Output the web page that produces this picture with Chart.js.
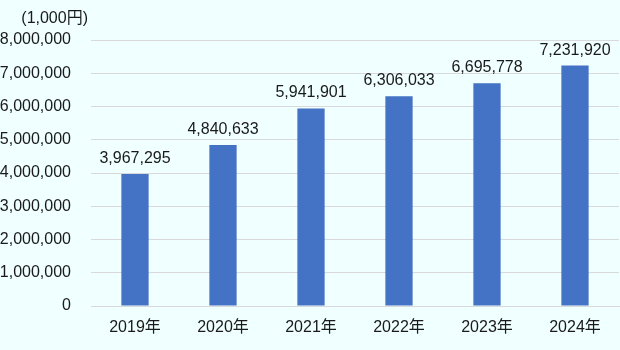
<!DOCTYPE html>
<html>
<head>
<meta charset="utf-8">
<script src="https://cdn.jsdelivr.net/npm/chart.js@4"></script>
<style>
  html, body { margin: 0; padding: 0; background: #f0ffff; }
  #wrap { width: 620px; height: 350px; }
</style>
</head>
<body>
<div id="wrap"><canvas id="c" width="620" height="350"></canvas></div>
<script>
// data
var years  = ['2019年', '2020年', '2021年', '2022年', '2023年', '2024年'];
var values = [3967295, 4840633, 5941901, 6306033, 6695778, 7231920];
var unitLabel = '(1,000円)';

var fontFam = '"Liberation Sans", "Noto Sans CJK JP", sans-serif';
var textCol = '#1a1a1a';
var gridCol = '#d9d9d9';
var barCol  = '#4472c4';

function fmt(v) { return v.toLocaleString('en-US'); }

// value labels above bars + unit text over y axis
var labelsPlugin = {
  id: 'valueLabels',
  afterDatasetsDraw: function (chart) {
    var ctx = chart.ctx;
    var meta = chart.getDatasetMeta(0);
    ctx.save();
    ctx.font = '16px ' + fontFam;
    ctx.fillStyle = textCol;
    ctx.textAlign = 'center';
    ctx.textBaseline = 'alphabetic';
    meta.data.forEach(function (bar, i) {
      ctx.fillText(fmt(values[i]), bar.x, bar.y - 11);
    });
    ctx.textAlign = 'right';
    ctx.fillText(unitLabel, chart.chartArea.left - 3, 23);
    ctx.restore();
  }
};

new Chart(document.getElementById('c'), {
  type: 'bar',
  data: {
    labels: years,
    datasets: [{
      data: values,
      backgroundColor: barCol,
      categoryPercentage: 1,
      barPercentage: 0.31
    }]
  },
  options: {
    responsive: false,
    animation: false,
    layout: { padding: { top: 40, right: 1, left: 0, bottom: 0 } },
    plugins: { legend: { display: false }, tooltip: { enabled: false } },
    scales: {
      x: {
        grid: { display: false, drawTicks: false },
        border: { color: gridCol },
        ticks: { color: textCol, font: { family: fontFam, size: 16 }, padding: 12 },
        afterFit: function (s) { s.height = 44; }
      },
      y: {
        min: 0, max: 8000000,
        grid: { color: gridCol, drawTicks: false },
        border: { display: false },
        ticks: {
          stepSize: 1000000,
          color: textCol,
          font: { family: fontFam, size: 16 },
          padding: 20,
          callback: function (v) { return fmt(v); }
        },
        afterFit: function (s) { s.width = 91; }
      }
    }
  },
  plugins: [labelsPlugin]
});
</script>
</body>
</html>
